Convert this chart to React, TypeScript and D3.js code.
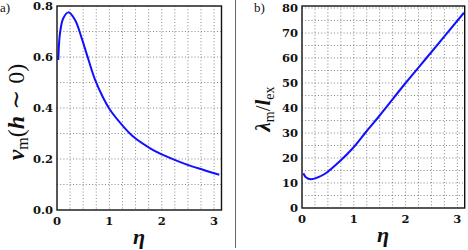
import React from "react";
import * as d3 from "d3";

const etaA = [0.025, 0.057, 0.12, 0.217, 0.345, 0.473, 0.6, 0.728, 0.87, 1.015, 1.27, 1.46, 1.78, 2.1, 2.48, 2.8, 3.1];
const nuA = [0.588, 0.693, 0.752, 0.775, 0.745, 0.673, 0.59, 0.51, 0.445, 0.392, 0.327, 0.287, 0.242, 0.209, 0.178, 0.157, 0.138];

const etaB = [0.025, 0.08, 0.17, 0.3, 0.46, 0.72, 0.98, 1.235, 1.5, 2.0, 2.5, 3.127];
const lamB = [13.9, 12.2, 11.5, 12.2, 13.9, 18.5, 23.9, 30.4, 37.0, 50.0, 62.4, 78.1];

const xTicks = [0, 1, 2, 3];
const yTicksA = [0, 0.2, 0.4, 0.6, 0.8];
const yTicksB = [0, 10, 20, 30, 40, 50, 60, 70, 80];

const W = 468;
const H = 250;
const FONT = "'DejaVu Serif', serif";
const MATH = "'Liberation Serif', 'DejaVu Serif', serif";

type PanelProps = {
  x0: number; x1: number; y0: number; y1: number;
  ymax: number; yTicks: number[]; yGrid: number;
  xs: number[]; ys: number[]; fmt: (v: number) => string;
};

function Panel({ x0, x1, y0, y1, ymax, yTicks, yGrid, xs, ys, fmt }: PanelProps) {
  const x = d3.scaleLinear().domain([0, Math.PI]).range([x0, x1]);
  const y = d3.scaleLinear().domain([0, ymax]).range([y1, y0]);
  const line = d3.line<number>().x((_, i) => x(xs[i])).y((d) => y(d)).curve(d3.curveCatmullRom.alpha(0.5));
  const vGrid = d3.range(0.25, Math.PI, 0.25);
  const hGrid = d3.range(yGrid, ymax - 1e-9, yGrid);
  return (
    <g>
      {vGrid.map((v) => (
        <line key={"v" + v} x1={x(v)} x2={x(v)} y1={y0} y2={y1} stroke="#666" strokeWidth={0.8} strokeDasharray="1 2.2" />
      ))}
      {hGrid.map((v) => (
        <line key={"h" + v} x1={x0} x2={x1} y1={y(v)} y2={y(v)} stroke="#666" strokeWidth={0.8} strokeDasharray="1 2.2" />
      ))}
      <path d={line(ys) || ""} fill="none" stroke="#1010ff" strokeWidth={2} />
      <rect x={x0} y={y0} width={x1 - x0} height={y1 - y0} fill="none" stroke="#111" strokeWidth={1.4} />
      {xTicks.map((t) => (
        <text key={"xt" + t} x={x(t)} y={y1 + 15} textAnchor="middle" fontFamily={FONT} fontWeight="bold" fontSize={11.5} fill="#111">
          {t}
        </text>
      ))}
      {yTicks.map((t) => (
        <text key={"yt" + t} x={x0 - 4} y={y(t) + 4} textAnchor="end" fontFamily={FONT} fontWeight="bold" fontSize={11.5} fill="#111">
          {fmt(t)}
        </text>
      ))}
    </g>
  );
}

export default function App() {
  return (
    <svg width={W} height={H} style={{ position: "absolute", left: 0, top: 0, background: "#fff" }}>
      <rect x={0} y={0} width={W} height={H} fill="#fff" />
      <Panel x0={57} x1={221.5} y0={6} y1={210} ymax={0.8} yTicks={yTicksA} yGrid={0.1} xs={etaA} ys={nuA} fmt={(v) => v.toFixed(1)} />
      <Panel x0={302} x1={464.7} y0={6} y1={208} ymax={80.8} yTicks={yTicksB} yGrid={5} xs={etaB} ys={lamB} fmt={(v) => String(v)} />
      <line x1={235.5} x2={235.5} y1={0} y2={248} stroke="#666" strokeWidth={1} />
      <text x={0} y={12} fontFamily={MATH} fontSize={13} fill="#111">a)</text>
      <text x={254} y={12} fontFamily={MATH} fontSize={13} fill="#111">b)</text>
      <text transform="translate(24,112) rotate(-90)" textAnchor="middle" fontFamily={MATH} fontSize={24} fill="#111">
        <tspan fontWeight="bold" fontStyle="italic">ν</tspan>
        <tspan fontSize={16} dy={4}>m</tspan>
        <tspan dy={-4}>(</tspan>
        <tspan fontWeight="bold" fontStyle="italic">h</tspan>
        <tspan> ∼ 0)</tspan>
      </text>
      <text transform="translate(270,109) rotate(-90)" textAnchor="middle" fontFamily={MATH} fontSize={21} fill="#111">
        <tspan fontWeight="bold" fontStyle="italic">λ</tspan>
        <tspan fontSize={14} dy={4}>m</tspan>
        <tspan dy={-4}>/</tspan>
        <tspan fontWeight="bold" fontStyle="italic">l</tspan>
        <tspan fontSize={14} dy={4}>ex</tspan>
      </text>
      <text x={139} y={244} textAnchor="middle" fontFamily={MATH} fontWeight="bold" fontStyle="italic" fontSize={22} fill="#111">η</text>
      <text x={383} y={242} textAnchor="middle" fontFamily={MATH} fontWeight="bold" fontStyle="italic" fontSize={22} fill="#111">η</text>
    </svg>
  );
}
